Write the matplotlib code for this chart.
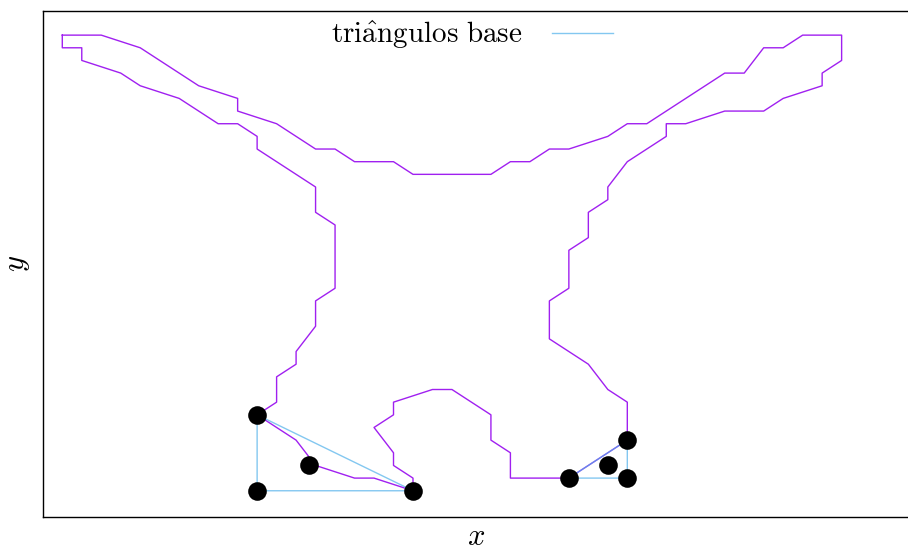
import matplotlib
matplotlib.use("Agg")
import matplotlib.pyplot as plt

plt.rcParams['mathtext.fontset'] = 'cm'
plt.rcParams['font.family'] = ['cmr10', 'DejaVu Serif']
plt.rcParams['axes.unicode_minus'] = False

# Silhouette outline on the grid (column, row); rows grow downward
outline_x = [0, 2, 4, 7, 9, 9, 11, 13, 14, 15, 17, 18, 22, 23, 24, 25, 26, 28, 29, 30,
             34, 35, 36, 37, 38, 40, 40, 39, 39, 37, 36, 34, 32, 31, 31, 29, 28, 28,
             27, 27, 26, 26, 25, 25, 27, 28, 29, 29, 26, 23, 23, 22, 22, 20, 19, 17,
             17, 16, 17, 17, 18, 18, 16, 15, 13, 12, 10, 11, 11, 12, 12, 13, 13, 14,
             14, 13, 13, 10, 10, 9, 8, 6, 4, 3, 1, 1, 0, 0]
outline_y = [0, 0, 1, 4, 5, 6, 7, 9, 9, 10, 10, 11, 11, 10, 10, 9, 9, 8, 7, 7,
             3, 3, 1, 1, 0, 0, 2, 3, 4, 5, 6, 6, 7, 7, 8, 10, 12, 13,
             14, 16, 17, 20, 21, 24, 26, 28, 29, 32, 35, 35, 33, 32, 30, 28, 28, 29,
             30, 31, 33, 34, 35, 36, 35, 35, 34, 32, 30, 29, 27, 26, 25, 23, 21, 20,
             15, 14, 12, 9, 8, 7, 7, 5, 4, 3, 2, 1, 1, 0]

# Base triangles (vertices)
triangles = [
    [(10, 30), (10, 36), (18, 36)],
    [(26, 35), (29, 32), (29, 35)],
]

fig = plt.figure(figsize=(9.08, 5.5), dpi=100)
ax = fig.add_axes([43 / 908, 1 - 516.7 / 550, 1 - 43 / 908 + 0.002, (516.7 - 10.7) / 550])

ax.plot(outline_x, outline_y, color='#a020f0', lw=1.0, zorder=2)

blue = '#4fb0ea'
for k, tri in enumerate(triangles):
    tx = [p[0] for p in tri] + [tri[0][0]]
    ty = [p[1] for p in tri] + [tri[0][1]]
    ax.plot(tx, ty, color=blue, lw=1.0, alpha=0.7, zorder=3,
            label=r'$\mathrm{tri\hat{a}ngulos\ base}$' if k == 0 else None)

# Vertices and centroids
pts_x, pts_y = [], []
for tri in triangles:
    for p in tri:
        pts_x.append(p[0])
        pts_y.append(p[1])
    pts_x.append(sum(p[0] for p in tri) / 3)
    pts_y.append(sum(p[1] for p in tri) / 3)
ax.scatter(pts_x, pts_y, s=180, color='black', zorder=4, linewidths=0)

ax.set_xlim(-0.99, 43.5)
ax.set_ylim(38.05, -1.93)
ax.set_xticks([])
ax.set_yticks([])
ax.spines['right'].set_visible(False)
for s in ['left', 'top', 'bottom']:
    ax.spines[s].set_linewidth(1.0)

ax.set_xlabel(r'$x$', fontsize=22, labelpad=5)
ax.set_ylabel(r'$y$', fontsize=22, labelpad=8)

ax.legend(loc='upper center', bbox_to_anchor=(0.495, 1.035), frameon=False,
          markerfirst=False, fontsize=21, handlelength=2.1, handletextpad=1.0)

fig.savefig('out.png', dpi=100)
